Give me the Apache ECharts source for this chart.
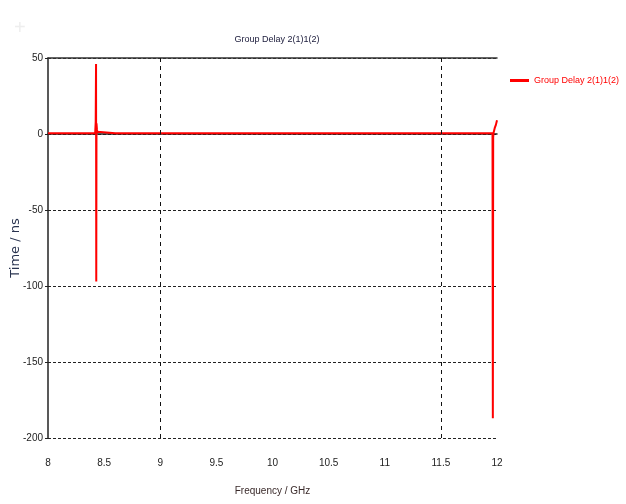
<!DOCTYPE html>
<html><head><meta charset="utf-8">
<script src="https://cdn.jsdelivr.net/npm/echarts@6/dist/echarts.min.js"></script>
<style>html,body{margin:0;padding:0;background:#fff}#c{width:626px;height:504px}</style>
</head><body><div id="c"></div>
<script>
var seriesName = 'Group Delay 2(1)1(2)';
var freqs  = [8, 8.2, 8.4, 8.42, 8.425, 8.428, 8.43, 8.432, 8.436, 8.44, 8.45, 8.6, 9, 10, 11, 11.5, 11.9, 11.96, 11.963, 11.966, 11.97, 11.98, 11.99, 12];
var delays = [0.5, 0.5, 0.5, 0.5, 8, 46, -97, 7, 3, 1.5, 0.5, 0.5, 0.5, 0.5, 0.5, 0.5, 0.5, 0.5, -187, -2, 1, 4, 6, 9];
var yTicks = [50, 0, -50, -100, -150, -200];
var gridX = [9, 11.5];

var font = "'Liberation Sans', Arial, sans-serif";
var chart = echarts.init(document.getElementById('c'));
chart.setOption({
  animation: false,
  backgroundColor: '#fff',
  title: {text: 'Group Delay 2(1)1(2)', left: 272, top: 30, textAlign: 'center',
    textStyle: {fontFamily: font, fontSize: 9, fontWeight: 'normal', color: '#1a1a3a'}},
  legend: {left: 505, top: 71, icon: 'rect', itemWidth: 19, itemHeight: 3, itemGap: 4,
    textStyle: {fontFamily: font, fontSize: 9, color: '#ff0000'}, data: [seriesName]},
  grid: {left: 48, right: 129, top: 58, bottom: 66, containLabel: false, outerBoundsMode: 'none'},
  xAxis: [{
    type: 'value', min: 8, max: 12, interval: 0.5,
    name: 'Frequency / GHz', nameLocation: 'middle', nameGap: 48,
    nameTextStyle: {fontFamily: font, fontSize: 10, color: '#3a2a2a'},
    axisLine: {lineStyle: {color: '#222', width: 1.5}},
    axisTick: {show: false},
    axisLabel: {margin: 20, fontFamily: font, fontSize: 10, color: '#222'},
    splitLine: {show: false}
  }, {
    type: 'value', min: 8, max: 12, position: 'top',
    axisLine: {show: true, lineStyle: {color: '#333', width: 1.5}},
    axisTick: {show: false}, axisLabel: {show: false}, splitLine: {show: false}
  }],
  yAxis: {
    type: 'value', min: -200, max: 50, interval: 50,
    name: 'Time / ns', nameLocation: 'middle', nameGap: 26, nameRotate: 90, nameMoveOverlap: false,
    nameTextStyle: {fontFamily: "'DejaVu Sans',sans-serif", fontSize: 13, color: '#2a3450'},
    axisLine: {show: true, lineStyle: {color: '#222', width: 1.5}},
    axisTick: {show: true, length: 3, lineStyle: {color: '#222'}},
    axisLabel: {margin: 5, fontFamily: font, fontSize: 10, color: '#222'},
    splitLine: {show: true, lineStyle: {color: '#222', type: [3, 2], width: 1}}
  },
  series: [{
    name: seriesName, type: 'line', showSymbol: false, symbol: 'none',
    data: freqs.map(function (f, i) { return [f, delays[i]]; }),
    lineStyle: {color: '#ff0000', width: 2},
    itemStyle: {color: '#ff0000'},
    markLine: {silent: true, symbol: 'none', label: {show: false},
      lineStyle: {color: '#111', type: [4, 4], width: 1},
      data: gridX.map(function (v) { return {xAxis: v}; })}
  }],
  graphic: [{type: 'text', left: 14, top: 18, style: {text: '+', fontSize: 20, fill: '#eeeeee'}}]
});
</script></body></html>
